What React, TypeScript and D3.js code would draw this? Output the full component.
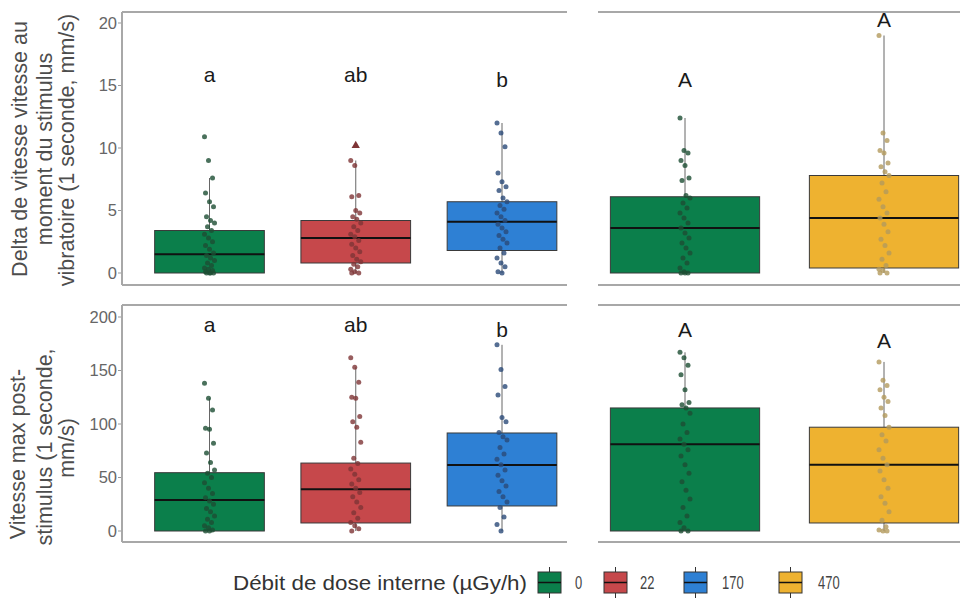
import React from "react";
import * as d3 from "d3";

// ---------- data ----------
const leftGroups = ["0", "22", "170"];
const rightGroups = ["0", "470"];
const legendLabels = ["0", "22", "170", "470"];
const fillColors: Record<string, string> = { "0": "#0b7f4b", "22": "#c6484b", "170": "#2e80d4", "470": "#eeb230" };
const pointColors: Record<string, string> = { "0": "#1d4d33", "22": "#7e3436", "170": "#2b4a78", "470": "#b39a5c" };

// order: left 0, left 22, left 170, right 0, right 470
const topQ1 = [0, 0.8, 1.8, 0, 0.4];
const topMed = [1.5, 2.8, 4.1, 3.6, 4.4];
const topQ3 = [3.4, 4.2, 5.7, 6.1, 7.8];
const topLo = [0, 0, 0, 0, 0];
const topHi = [7.6, 9.0, 12.0, 12.4, 19.0];
const topLetters = ["a", "ab", "b", "A", "A"];
const topLetterY = [15.3, 15.3, 14.9, 14.9, 19.7];
const topTriangle = 10.2; // triangle marker in the 22 group

const botQ1 = [0, 7.5, 23.4, 0, 7.5];
const botMed = [29, 39, 61.7, 81, 62];
const botQ3 = [54.5, 63.5, 91.6, 115, 97];
const botLo = [0, 0, 0, 0, 0];
const botHi = [124, 153, 174, 167, 158];
const botLetters = ["a", "ab", "b", "A", "A"];
const botLetterY = [186, 186, 181, 181, 171];

const topPoints = [
  [10.9, 9.0, 7.6, 6.4, 5.7, 5.3, 4.5, 4.2, 4.0, 3.7, 3.4, 3.1, 2.8, 2.5, 2.2, 1.9, 1.6, 1.4, 1.2, 1.0, 0.8, 0.6, 0.4, 0.3, 0.2, 0.1, 0, 0, 0, 0],
  [9.0, 8.6, 6.2, 6.1, 5.0, 4.8, 4.5, 4.3, 4.0, 3.7, 3.4, 3.1, 2.9, 2.6, 2.3, 2.0, 1.7, 1.4, 1.1, 0.9, 0.7, 0.5, 0.3, 0.1, 0, 0],
  [12.0, 11.2, 10.1, 8.0, 7.3, 6.9, 6.6, 6.0, 5.7, 5.4, 5.1, 4.8, 4.5, 4.2, 3.9, 3.6, 3.3, 3.0, 2.7, 2.4, 2.0, 1.6, 1.2, 0.8, 0.5, 0.1, 0],
  [12.4, 9.8, 9.6, 9.0, 8.6, 7.6, 7.4, 6.2, 6.0, 5.6, 5.2, 4.8, 4.4, 4.0, 3.6, 3.2, 2.8, 2.4, 2.0, 1.6, 1.2, 0.8, 0.4, 0.1, 0, 0, 0],
  [19.0, 11.2, 10.6, 9.8, 9.6, 8.8, 8.5, 8.1, 7.8, 7.2, 6.5, 5.9, 5.3, 4.8, 4.4, 3.9, 3.3, 2.7, 2.2, 1.6, 1.1, 0.6, 0.3, 0.2, 0, 0],
];
const botPoints = [
  [138, 124, 113, 96, 95, 82, 73, 64, 57, 54, 50, 45, 40, 35, 31, 28, 25, 21, 18, 14, 11, 8, 5, 3, 1, 0, 0],
  [162, 153, 139, 125, 124, 107, 102, 97, 83, 68, 63, 58, 53, 48, 44, 40, 36, 32, 27, 22, 17, 12, 8, 5, 2, 0],
  [174, 151, 135, 127, 106, 102, 92, 88, 85, 78, 72, 67, 62, 57, 52, 47, 42, 37, 32, 27, 22, 13, 6, 0],
  [167, 162, 155, 146, 132, 120, 118, 115, 110, 100, 92, 86, 81, 76, 70, 62, 54, 46, 38, 30, 22, 14, 8, 3, 0, 0],
  [158, 141, 136, 132, 125, 121, 115, 108, 97, 90, 84, 76, 68, 62, 56, 48, 40, 32, 26, 18, 10, 4, 1, 0, 0],
];

const topTicks = [0, 5, 10, 15, 20];
const botTicks = [0, 50, 100, 150, 200];
const topTitle = ["Delta de vitesse vitesse au", "moment du stimulus", "vibratoire (1 seconde, mm/s)"];
const botTitle = ["Vitesse max post-", "stimulus (1 seconde,", "mm/s)"];
const legendTitle = "Débit de dose interne (µGy/h)";

// ---------- scales ----------
const xLeft = d3.scalePoint<string>().domain(leftGroups).range([209.5, 502]);
const xRight = d3.scalePoint<string>().domain(rightGroups).range([685, 884]);
const topY = d3.scaleLinear().domain([0, 20]).range([273, 23]);
const botY = d3.scaleLinear().domain([0, 200]).range([531, 317]);

const groupKeys = ["0", "22", "170", "0", "470"];
const groupX = (i: number) => (i < 3 ? xLeft(leftGroups[i])! : xRight(rightGroups[i - 3])!);
const groupW = (i: number) => (i < 3 ? xLeft.step() * 0.75 : xRight.step() * 0.75);

const FONT = "'Liberation Sans', Arial, sans-serif";

function Panel({ y, q1, med, q3, lo, hi, pts, letters, letterY, ticks, frameTop, frameBot, tri }: any) {
  const borderCol = "#a8a8a8";
  return (
    <g>
      <line x1={122} x2={567} y1={frameTop} y2={frameTop} stroke={borderCol} strokeWidth={2} />
      <line x1={122} x2={567} y1={frameBot} y2={frameBot} stroke={borderCol} strokeWidth={2} />
      <line x1={122} x2={122} y1={frameTop} y2={frameBot} stroke={borderCol} strokeWidth={2} />
      <line x1={598} x2={960} y1={frameTop} y2={frameTop} stroke={borderCol} strokeWidth={2} />
      <line x1={598} x2={960} y1={frameBot} y2={frameBot} stroke={borderCol} strokeWidth={2} />
      {ticks.map((t: number) => (
        <g key={t}>
          <line x1={118} x2={121} y1={y(t)} y2={y(t)} stroke="#999" strokeWidth={1} />
          <text x={117} y={y(t)} dy="0.36em" textAnchor="end" fontSize={16.5} fill="#666" fontFamily={FONT}>{t}</text>
        </g>
      ))}
      {groupKeys.map((k, i) => {
        const cx = groupX(i);
        const w = groupW(i);
        return (
          <g key={i}>
            <line x1={cx} x2={cx} y1={y(q3[i])} y2={y(hi[i])} stroke="#555" strokeWidth={0.9} />
            <line x1={cx} x2={cx} y1={y(q1[i])} y2={y(lo[i])} stroke="#555" strokeWidth={0.9} />
            <rect x={cx - w / 2} y={y(q3[i])} width={w} height={y(q1[i]) - y(q3[i])} fill={fillColors[k]} stroke="#3a3a3a" strokeWidth={1} />
            <line x1={cx - w / 2} x2={cx + w / 2} y1={y(med[i])} y2={y(med[i])} stroke="#111" strokeWidth={2} />
            {pts[i].map((v: number, j: number) => (
              <circle key={j} cx={cx + (((j * 37) % 11) - 5) * 1.0} cy={y(v)} r={2.5} fill={pointColors[k]} fillOpacity={0.8} />
            ))}
            {tri != null && i === 1 && (
              <path d={d3.symbol(d3.symbolTriangle, 30)()!} transform={`translate(${cx},${y(tri)})`} fill={pointColors[k]} />
            )}
            <text x={cx} y={y(letterY[i])} textAnchor="middle" fontSize={21} fill="#1a1a1a" fontFamily={FONT}>{letters[i]}</text>
          </g>
        );
      })}
    </g>
  );
}

function YTitle({ lines, cys, xs }: { lines: string[]; cys: number[]; xs: number[] }) {
  return (
    <g fill="#4d4d4d" fontSize={21.5} fontFamily={FONT}>
      {lines.map((l, i) => (
        <text key={i} transform={`translate(${xs[i]},${cys[i]}) rotate(-90)`} textAnchor="middle">{l}</text>
      ))}
    </g>
  );
}

export default function App() {
  const legendKeyX = [538, 604, 684, 779];
  const legendTextX = [575, 640, 722, 818];
  return (
    <svg width={960} height={601} style={{ position: "absolute", left: 0, top: 0, background: "#fff" }} fontFamily={FONT}>
      <rect width={960} height={601} fill="#fff" />
      <Panel y={topY} q1={topQ1} med={topMed} q3={topQ3} lo={topLo} hi={topHi} pts={topPoints}
        letters={topLetters} letterY={topLetterY} ticks={topTicks} frameTop={12} frameBot={285} tri={topTriangle} />
      <Panel y={botY} q1={botQ1} med={botMed} q3={botQ3} lo={botLo} hi={botHi} pts={botPoints}
        letters={botLetters} letterY={botLetterY} ticks={botTicks} frameTop={305} frameBot={542} tri={null} />

      <YTitle lines={topTitle} cys={[149, 149, 150]} xs={[27, 52, 74]} />
      <YTitle lines={botTitle} cys={[454, 447, 448]} xs={[25, 52, 74]} />

      {/* legend */}
      <text x={233} y={590} fontSize={20} fill="#333" textLength={294} lengthAdjust="spacingAndGlyphs">{legendTitle}</text>
      {legendLabels.map((k, i) => (
        <g key={k}>
          <line x1={legendKeyX[i] + 11.5} x2={legendKeyX[i] + 11.5} y1={567} y2={598} stroke="#333" strokeWidth={1} />
          <rect x={legendKeyX[i]} y={572} width={23} height={21} fill={fillColors[k]} stroke="#333" strokeWidth={1} />
          <line x1={legendKeyX[i]} x2={legendKeyX[i] + 23} y1={582.5} y2={582.5} stroke="#111" strokeWidth={1.5} />
          <text transform={`translate(${legendTextX[i]},589) scale(0.72,1)`} fontSize={18} fill="#444">{k}</text>
        </g>
      ))}
    </svg>
  );
}
